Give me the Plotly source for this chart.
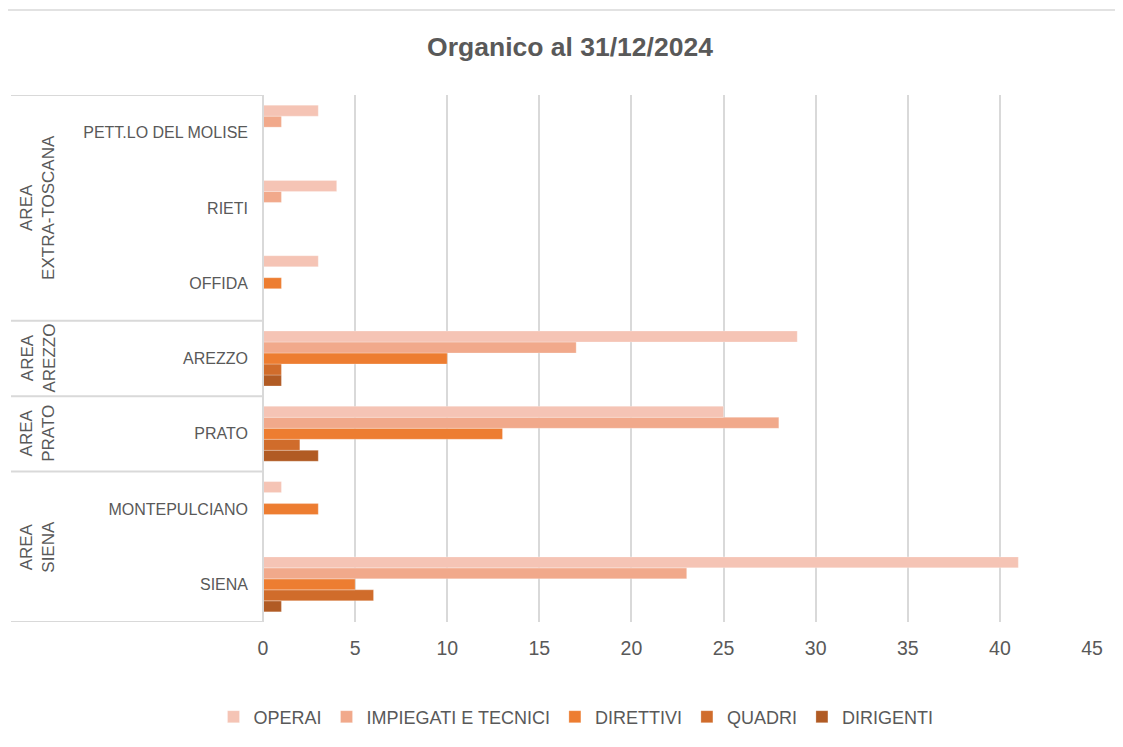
import plotly.graph_objects as go

# ---- data ----
cities = ["SIENA", "MONTEPULCIANO", "PRATO", "AREZZO", "OFFIDA", "RIETI", "PETT.LO DEL MOLISE"]
areas = ["AREA<br>SIENA", "AREA<br>PRATO", "AREA<br>AREZZO", "AREA<br>EXTRA-TOSCANA"]
area_spans = [(0, 1), (2, 2), (3, 3), (4, 6)]  # index range of cities in each area

series_names = ["OPERAI", "IMPIEGATI E TECNICI", "DIRETTIVI", "QUADRI", "DIRIGENTI"]
operai = [41, 1, 25, 29, 3, 4, 3]
impiegati = [23, 0, 28, 17, 0, 1, 1]
direttivi = [5, 3, 13, 10, 1, 0, 0]
quadri = [6, 0, 2, 1, 0, 0, 0]
dirigenti = [1, 0, 3, 1, 0, 0, 0]
values = [operai, impiegati, direttivi, quadri, dirigenti]
colors = ["#F5C4B5", "#F1A98B", "#ED7D31", "#D06C2B", "#B15B24"]

x_ticks = [0, 5, 10, 15, 20, 25, 30, 35, 40, 45]

FONT = "Liberation Sans, Arial, sans-serif"
GREY = "#595959"
LINE = "#D9D9D9"

fig = go.Figure()
# add in reverse so OPERAI is drawn at the top of each group
for name, vals, col in reversed(list(zip(series_names, values, colors))):
    fig.add_trace(go.Bar(
        y=cities, x=vals, name=name, orientation="h",
        marker=dict(color=col, line=dict(color="rgba(255,255,255,0.5)", width=0.5)),
    ))

OFF = 8  # page margin of the browser
W, H = 1123 - OFF, 747 - OFF
L, R, T, B = 263 - OFF, 31, 95 - OFF, 125
pw = W - L - R
ph = H - T - B


def px_x(x):
    return (x - OFF - L) / pw


def px_y(y):
    return (H - B - (y - OFF)) / ph


shapes = []
# outer frame (top and left visible)
shapes.append(dict(type="rect", xref="paper", yref="paper",
                   x0=px_x(7), x1=px_x(1300), y0=px_y(900), y1=px_y(10),
                   line=dict(color=LINE, width=1.5), layer="below"))
# category axis line
shapes.append(dict(type="line", xref="paper", yref="y", x0=0, x1=0, y0=-0.5, y1=6.5,
                   line=dict(color=LINE, width=2)))
# group dividers
for b in [-0.5, 1.5, 2.5, 3.5, 6.5]:
    shapes.append(dict(type="line", xref="paper", yref="y",
                       x0=px_x(11), x1=0, y0=b, y1=b,
                       line=dict(color=LINE, width=2)))

annotations = []
for label, (a, b) in zip(areas, area_spans):
    annotations.append(dict(text=label, xref="paper", yref="y",
                            x=px_x(38), y=(a + b) / 2, textangle=-90,
                            showarrow=False, xanchor="center", yanchor="middle",
                            font=dict(family=FONT, size=17, color=GREY)))

fig.update_layout(
    width=W, height=H,
    margin=dict(l=L, r=R, t=T, b=B),
    paper_bgcolor="white", plot_bgcolor="white",
    barmode="group", bargap=0.27, bargroupgap=0,
    title=dict(text="<b>Organico al 31/12/2024</b>", x=(570 - OFF) / W, xref="container",
               y=1 - (47 - OFF) / H, yref="container", xanchor="center", yanchor="middle",
               font=dict(family=FONT, size=26.5, color=GREY)),
    xaxis=dict(range=[0, 45], tickvals=x_ticks, showgrid=True, gridcolor=LINE, gridwidth=2,
               zeroline=False, showline=False, ticks="",
               tickfont=dict(family=FONT, size=19.5, color=GREY), ticklabelstandoff=12),
    yaxis=dict(type="category", categoryorder="array", categoryarray=cities,
               showgrid=False, zeroline=False, showline=False, ticks="",
               tickfont=dict(family=FONT, size=16, color=GREY), ticklabelstandoff=14,
               range=[-0.5, 6.5]),
    legend=dict(orientation="h", traceorder="reversed", x=px_x(576), xanchor="center",
                y=px_y(717), yanchor="middle",
                font=dict(family=FONT, size=18, color=GREY), itemwidth=30),
    shapes=shapes, annotations=annotations,
)

fig.write_html("out.html")
